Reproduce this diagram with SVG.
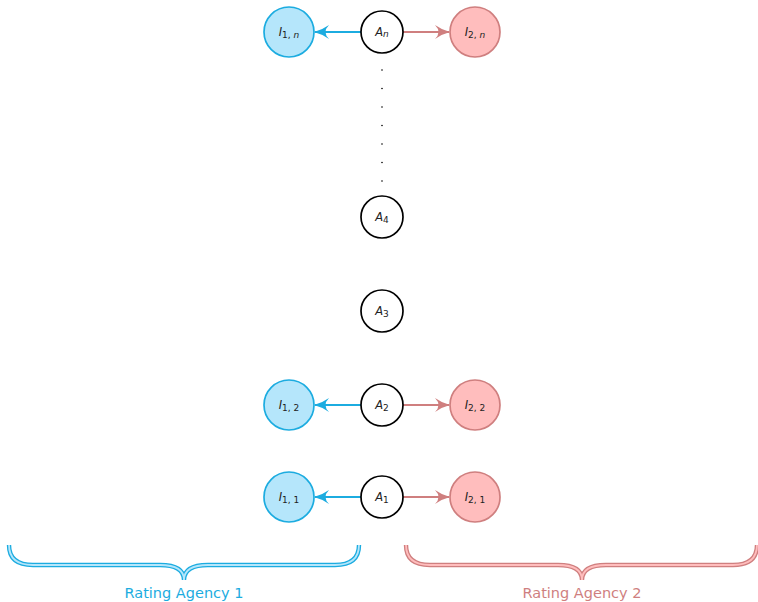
<svg xmlns="http://www.w3.org/2000/svg" width="758" height="602" viewBox="0 0 758 602">
  <style>
    .a { fill: #ffffff; stroke: #000000; stroke-width: 1.7; }
    .i1 { fill: #b5e6fb; stroke: #1cace0; stroke-width: 1.7; }
    .i2 { fill: #ffbdbd; stroke: #cf7f7f; stroke-width: 1.7; }
    .lbl { font-family: "DejaVu Sans", sans-serif; font-style: italic; font-size: 11.5px; fill: #222222; text-anchor: middle; }
    .sub { font-size: 9px; font-style: normal; }
    .subi { font-size: 9px; font-style: italic; }
    .eb { stroke: #1cace0; stroke-width: 2; fill: none; }
    .er { stroke: #cf7f7f; stroke-width: 2; fill: none; }
    .dot { fill: #000000; }
    .cap { font-family: "DejaVu Sans", sans-serif; font-size: 14.5px; text-anchor: middle; }
  </style>
  <defs>
    <marker id="hb" viewBox="0 0 15 14" refX="14" refY="7" markerWidth="15" markerHeight="14" markerUnits="userSpaceOnUse" orient="auto">
      <path d="M0,0 Q7,5 15,7 Q7,9 0,14 Q7,7 0,0 Z" fill="#1cace0"/>
    </marker>
    <marker id="hr" viewBox="0 0 15 14" refX="14" refY="7" markerWidth="15" markerHeight="14" markerUnits="userSpaceOnUse" orient="auto">
      <path d="M0,0 Q7,5 15,7 Q7,9 0,14 Q7,7 0,0 Z" fill="#cf7f7f"/>
    </marker>
  </defs>

  <!-- connectors -->
  <g id="edges">
    <line class="eb" x1="361" y1="32" x2="315" y2="32" marker-end="url(#hb)"/>
    <line class="er" x1="403" y1="32" x2="449" y2="32" marker-end="url(#hr)"/>
    <line class="eb" x1="361" y1="405" x2="315" y2="405" marker-end="url(#hb)"/>
    <line class="er" x1="403" y1="405" x2="449" y2="405" marker-end="url(#hr)"/>
    <line class="eb" x1="361" y1="497" x2="315" y2="497" marker-end="url(#hb)"/>
    <line class="er" x1="403" y1="497" x2="449" y2="497" marker-end="url(#hr)"/>
  </g>

  <!-- vertical ellipsis -->
  <g id="vdots">
    <circle class="dot" cx="382" cy="70" r="0.8"/>
    <circle class="dot" cx="382" cy="88.5" r="0.8"/>
    <circle class="dot" cx="382" cy="107" r="0.8"/>
    <circle class="dot" cx="382" cy="125.5" r="0.8"/>
    <circle class="dot" cx="382" cy="144" r="0.8"/>
    <circle class="dot" cx="382" cy="162.5" r="0.8"/>
    <circle class="dot" cx="382" cy="181" r="0.8"/>
  </g>

  <!-- assets -->
  <g id="An"><circle class="a" cx="382" cy="32" r="21"/><text class="lbl" x="382" y="36">A<tspan class="subi" dy="1">n</tspan></text></g>
  <g id="A4"><circle class="a" cx="382" cy="217" r="21"/><text class="lbl" x="382" y="221">A<tspan class="sub" dy="2">4</tspan></text></g>
  <g id="A3"><circle class="a" cx="382" cy="311" r="21"/><text class="lbl" x="382" y="315">A<tspan class="sub" dy="2">3</tspan></text></g>
  <g id="A2"><circle class="a" cx="382" cy="405" r="21"/><text class="lbl" x="382" y="409">A<tspan class="sub" dy="2">2</tspan></text></g>
  <g id="A1"><circle class="a" cx="382" cy="497" r="21"/><text class="lbl" x="382" y="501">A<tspan class="sub" dy="2">1</tspan></text></g>

  <!-- agency 1 ratings -->
  <g id="I1n"><circle class="i1" cx="289" cy="32" r="25"/><text class="lbl" x="289" y="36">I<tspan class="sub" dy="2">1, </tspan><tspan class="subi">n</tspan></text></g>
  <g id="I12"><circle class="i1" cx="289" cy="405" r="25"/><text class="lbl" x="289" y="409">I<tspan class="sub" dy="2">1, 2</tspan></text></g>
  <g id="I11"><circle class="i1" cx="289" cy="497" r="25"/><text class="lbl" x="289" y="501">I<tspan class="sub" dy="2">1, 1</tspan></text></g>

  <!-- agency 2 ratings -->
  <g id="I2n"><circle class="i2" cx="475" cy="32" r="25"/><text class="lbl" x="475" y="36">I<tspan class="sub" dy="2">2, </tspan><tspan class="subi">n</tspan></text></g>
  <g id="I22"><circle class="i2" cx="475" cy="405" r="25"/><text class="lbl" x="475" y="409">I<tspan class="sub" dy="2">2, 2</tspan></text></g>
  <g id="I21"><circle class="i2" cx="475" cy="497" r="25"/><text class="lbl" x="475" y="501">I<tspan class="sub" dy="2">2, 1</tspan></text></g>

  <!-- braces with captions -->
  <g id="agency1">
    <path d="M9,545 Q9,565 33,565 L160,565 Q184,565 184,580 Q184,565 208,565 L335,565 Q359,565 359,545" fill="none" stroke="#1cace0" stroke-width="4.4"/>
    <path d="M9,545 Q9,565 33,565 L160,565 Q184,565 184,580 Q184,565 208,565 L335,565 Q359,565 359,545" fill="none" stroke="#b5e6fb" stroke-width="1.8"/>
    <text class="cap" x="184" y="598" fill="#1cace0">Rating Agency 1</text>
  </g>
  <g id="agency2">
    <path d="M406,545 Q406,565 430,565 L558,565 Q582,565 582,580 Q582,565 606,565 L733,565 Q757,565 757,545" fill="none" stroke="#cf7f7f" stroke-width="4.4"/>
    <path d="M406,545 Q406,565 430,565 L558,565 Q582,565 582,580 Q582,565 606,565 L733,565 Q757,565 757,545" fill="none" stroke="#ffbdbd" stroke-width="1.8"/>
    <text class="cap" x="582" y="598" fill="#cf7f7f">Rating Agency 2</text>
  </g>
</svg>
